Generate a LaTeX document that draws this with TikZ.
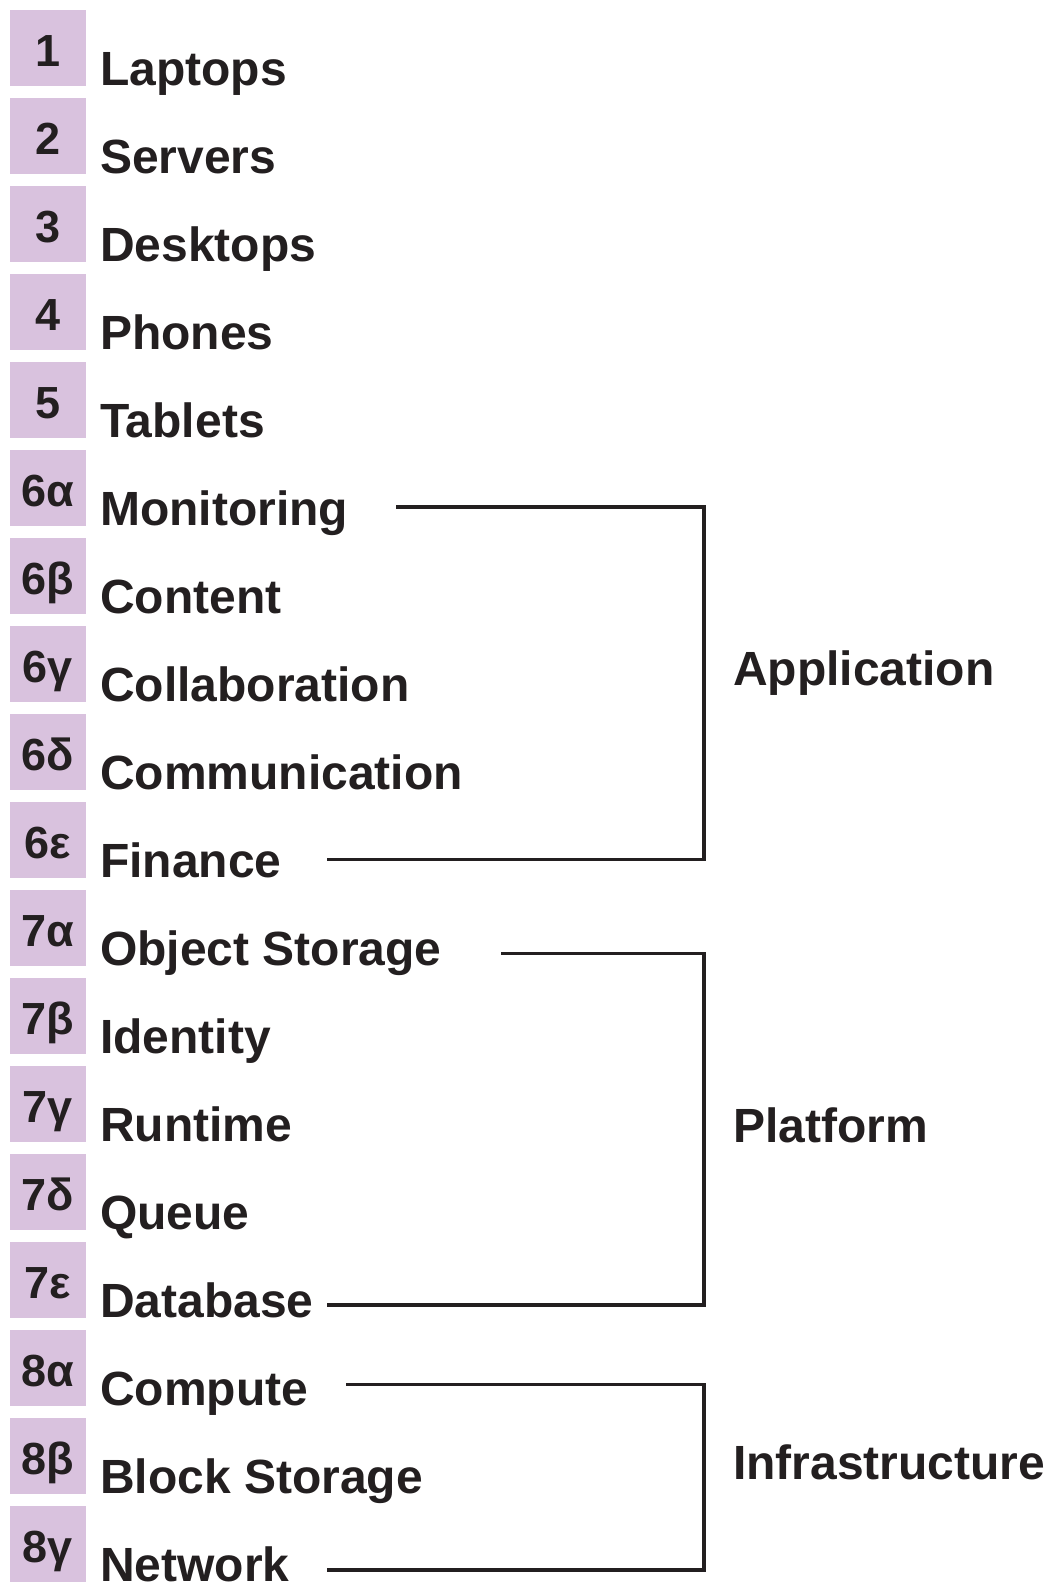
\documentclass[tikz,border=0pt]{standalone}
\usepackage{fontspec}
\setmainfont{Liberation Sans}
\definecolor{boxfill}{RGB}{217,194,222}
\definecolor{ink}{RGB}{35,31,32}
\begin{document}
\begin{tikzpicture}[x=1pt,y=-1pt,
  numbox/.style={fill=boxfill, draw=none, minimum width=76pt, minimum height=76pt, inner sep=0pt, anchor=north west},
  numtext/.style={font=\fontsize{45}{45}\selectfont\bfseries, text=ink, anchor=base, inner sep=0pt},
  itemtext/.style={font=\fontsize{48}{48}\selectfont\bfseries, text=ink, anchor=base west, inner sep=0pt},
  grouptext/.style={itemtext},
  bracket/.style={draw=ink, line width=3.8pt, line join=miter}]
\useasboundingbox (0,0) rectangle (1049,1583);
\foreach \num/\lab [count=\k from 0] in {1/Laptops, 2/Servers, 3/Desktops, 4/Phones, 5/Tablets,
  6α/Monitoring, 6β/Content, 6γ/Collaboration, 6δ/Communication, 6ε/Finance,
  7α/Object Storage, 7β/Identity, 7γ/Runtime, 7δ/Queue, 7ε/Database,
  8α/Compute, 8β/Block Storage, 8γ/Network}{
  \node[numbox] (b\k) at (10, {10+88*\k}) {};
  \node[numtext] (n\k) at (48, {66+88*\k}) {\num};
  \node[itemtext] (l\k) at (100, {85+88*\k}) {\lab};
}
% group labels
\node[grouptext] (gApp) at (733,685) {Application};
\node[grouptext] (gPlat) at (733,1142) {Platform};
\node[grouptext] (gInf) at (733,1479) {Infrastructure};
% bracket ends
\coordinate (appTop) at (396,507);
\coordinate (appBot) at (327,859.5);
\coordinate (platTop) at (501,953.5);
\coordinate (platBot) at (327,1304.7);
\coordinate (infTop) at (346,1384.5);
\coordinate (infBot) at (327,1570);
\coordinate (spine) at (704,0);
\draw[bracket] (appTop) -- (appTop -| spine) |- (appBot);
\draw[bracket] (platTop) -- (platTop -| spine) |- (platBot);
\draw[bracket] (infTop) -- (infTop -| spine) |- (infBot);
\end{tikzpicture}
\end{document}
